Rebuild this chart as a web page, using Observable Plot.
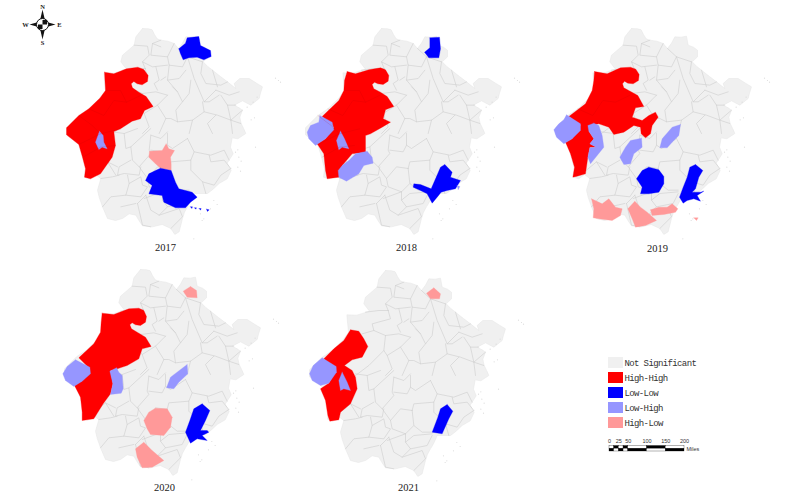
<!DOCTYPE html>
<html><head><meta charset="utf-8">
<style>html,body{margin:0;padding:0;background:#fff}svg{display:block}.tight text{letter-spacing:-.62px}</style>
<script src="https://cdn.jsdelivr.net/npm/d3@7"></script>
<script src="https://cdn.jsdelivr.net/npm/@observablehq/plot@0.6"></script>
</head><body><div id="chart"></div>
<script>
const categories=["Not Significant","High-High","Low-Low","Low-High","High-Low"];
const colours=["#f0f0f0","#ff0000","#0000ff","#9696ff","#ff9999"];
const years=["2017","2018","2019","2020","2021"];
const panelDx=[0,239,489,-2,243];
const panelDy=[0,0,0,241,242];
const yearX=[165,406,657,164,408];
const yearY=[247,247,248,487,487];
const cropX=[0,270,530,30,290];
const cropY=[0,10,10,260,260];

const outline=[[426,84],[445,85],[455,88],[462,102],[470,115],[481,119],[502,122],[521,129],[534,144],[546,128],[556,109],[575,110],[591,107],[596,134],[612,140],[624,149],[624,169],[608,184],[622,198],[636,209],[660,228],[681,244],[706,264],[701,249],[718,234],[746,234],[768,248],[786,259],[780,278],[776,294],[751,314],[726,301],[701,314],[716,322],[726,329],[718,350],[722,369],[730,385],[736,399],[712,415],[695,412],[690,440],[698,460],[680,488],[692,510],[680,535],[656,549],[638,566],[621,579],[581,579],[572,600],[561,619],[552,635],[546,654],[536,694],[523,702],[511,684],[485,672],[456,679],[426,676],[414,658],[406,644],[386,640],[366,654],[345,660],[321,654],[306,619],[296,590],[291,569],[301,534],[285,522],[268,535],[252,530],[255,505],[246,470],[235,432],[198,403],[198,382],[235,345],[265,325],[298,293],[315,270],[310,217],[340,218],[378,206],[361,184],[366,164],[401,134],[406,109]];
const islands=[[762,352],[752,358],[765,440],[705,455],[715,470],[722,482],[712,500],[610,655],[605,660],[834,240],[825,233],[840,245],[580,715],[630,625],[740,320],[758,305],[770,290],[712,448],[720,512],[640,600],[650,612],[600,640]];
const northBorders=[[[95,65],[135,68],[140,95],[120,115],[128,135]],[[175,50],[150,60],[145,95],[195,100],[215,60]],[[228,75],[255,100],[300,115]],[[195,100],[200,125],[240,130],[255,100]],[[120,115],[150,130],[195,125]],[[128,135],[135,160],[80,175],[85,195],[120,210],[160,205],[195,215]],[[60,140],[100,135],[128,135]],[[160,130],[170,170],[155,180],[165,200]],[[200,125],[195,170],[230,165],[250,140]],[[255,100],[275,165],[305,235],[340,200]],[[300,115],[295,150],[310,180],[355,185],[375,175]],[[195,170],[225,205],[240,235],[260,210],[265,170]],[[340,200],[380,215],[410,205]],[[305,235],[320,235],[350,215]],[[355,215],[375,245],[400,245]],[[240,235],[220,260],[225,295],[270,290],[305,265],[300,235]],[[120,210],[115,255],[125,270],[165,245],[195,215]],[[165,245],[190,285],[170,330]],[[115,255],[70,300],[30,330]],[[125,270],[140,310],[120,330]],[[225,295],[205,285],[190,285]],[[305,265],[345,275],[385,290],[390,330]],[[340,275],[315,300],[330,330]],[[270,290],[260,330]],[[375,245],[385,290],[420,260]],[[150,60],[175,70]],[[175,170],[190,160]],[[210,190],[225,205]],[[330,140],[345,190]],[[385,290],[415,300]],[[85,195],[50,205]]];
const southBorders=[[[75,10],[110,15],[150,0]],[[190,0],[130,55],[135,95],[155,115],[190,75],[185,65],[190,20]],[[190,20],[220,30],[240,10]],[[190,65],[230,70],[240,50],[240,15]],[[240,50],[255,60],[300,30]],[[300,30],[320,70],[310,95],[250,100],[245,120]],[[320,70],[370,80],[410,65],[425,95]],[[365,80],[370,100],[410,95],[430,120]],[[130,95],[95,115],[90,140],[110,135],[155,140],[160,115]],[[155,115],[180,150],[210,115],[245,120]],[[40,150],[75,145],[95,140]],[[120,140],[125,165],[115,200],[70,205],[45,235]],[[125,165],[160,145],[165,170],[180,175],[160,205],[115,200]],[[180,150],[185,175],[225,190],[250,165],[245,120]],[[250,165],[275,185],[305,185]],[[225,190],[225,215],[250,195],[305,190]],[[170,210],[225,190]],[[175,200],[190,245],[215,260],[240,235],[225,215]],[[150,225],[175,200]],[[150,225],[165,290],[190,295]],[[215,260],[230,255],[275,240],[285,265],[250,300]],[[240,235],[290,225],[305,195]],[[100,235],[145,225]],[[310,95],[310,125],[345,160],[380,170],[400,140],[430,120]],[[345,160],[355,195]],[[110,15],[115,60],[130,55]],[[60,100],[90,115]],[[85,140],[60,100],[30,125]]];
const redBorders=[[[265,325],[310,345],[340,300],[378,305],[420,285]],[[315,270],[360,270],[378,305]],[[235,345],[275,375],[300,400],[360,385]],[[235,432],[300,400]],[[248,470],[300,440],[345,435]]];

const regions2017=[
 [1,[[312,215],[340,220],[378,205],[412,200],[430,207],[443,225],[441,243],[425,253],[410,250],[400,243],[392,250],[396,262],[415,275],[437,288],[458,318],[432,330],[420,355],[395,362],[360,385],[340,393],[345,435],[335,470],[300,520],[270,535],[252,530],[255,505],[246,470],[235,432],[198,403],[198,382],[235,345],[265,325],[298,293],[315,270]]],
 [3,[[297,392],[308,405],[310,425],[320,445],[305,440],[295,447],[285,425]]],
 [4,[[497,430],[505,445],[522,450],[510,470],[512,490],[512,510],[480,503],[465,490],[445,470],[447,452],[485,450]]],
 [2,[[480,503],[512,510],[525,545],[535,565],[575,575],[590,590],[570,605],[555,622],[525,622],[490,605],[485,585],[445,580],[455,555],[435,540],[445,520],[465,510]]],
 [2,[[535,145],[555,128],[560,112],[595,108],[600,135],[630,150],[632,168],[610,178],[590,170],[565,172],[548,178],[540,160]]],
 [2,[[570,619],[576,619],[574,624]]],[2,[[582,622],[588,622],[586,626]]],[2,[[596,624],[602,624],[600,629]]],[2,[[618,626],[626,628],[621,633]]]
];
const regions2018=[
 [1,[[230,183],[255,190],[295,178],[330,172],[345,178],[355,195],[353,212],[338,222],[322,220],[312,215],[305,222],[310,235],[330,245],[350,258],[370,288],[345,298],[338,325],[360,335],[335,350],[300,370],[285,375],[285,425],[245,430],[215,465],[205,500],[170,505],[165,480],[160,430],[140,400],[165,385],[190,350],[155,318],[205,270],[220,240],[222,210]]],
 [3,[[148,315],[185,335],[190,358],[165,385],[135,405],[115,385],[110,365],[120,345],[145,335]]],
 [3,[[210,362],[222,385],[235,415],[215,410],[205,418],[198,390]]],
 [3,[[255,430],[290,422],[305,440],[308,458],[280,465],[265,490],[240,505],[228,512],[205,500],[203,480],[215,465],[235,450]]],
 [2,[[478,82],[507,80],[510,115],[505,142],[475,142],[462,125],[478,112]]],
 [2,[[523,462],[545,485],[540,500],[570,510],[555,535],[530,540],[512,545],[500,560],[485,578],[470,550],[450,540],[428,530],[430,520],[450,522],[482,535],[495,505],[510,470]]],
 [3,[[560,525],[568,528],[563,538]]]
];
const regions2019=[
 [1,[[192,183],[230,190],[270,172],[300,170],[316,176],[326,192],[324,210],[308,220],[292,218],[282,212],[276,220],[280,232],[295,240],[322,255],[340,288],[315,292],[305,320],[335,330],[355,315],[375,305],[383,320],[365,345],[360,370],[345,382],[332,370],[330,350],[310,345],[280,365],[250,372],[235,350],[205,340],[180,345],[175,362],[190,385],[178,400],[197,410],[178,410],[172,440],[165,490],[140,497],[127,500],[132,470],[120,430],[105,395],[125,385],[150,345],[115,318],[165,280],[185,240],[190,210]]],
 [3,[[108,313],[150,340],[150,360],[125,385],[100,400],[78,380],[70,358],[85,340],[100,328]]],
 [3,[[190,338],[205,345],[215,375],[220,410],[200,435],[180,460],[172,440],[178,412],[197,410],[178,400],[190,385],[175,362],[172,345]]],
 [3,[[333,383],[335,410],[310,430],[300,460],[280,462],[268,440],[285,410],[300,390]]],
 [3,[[450,342],[445,375],[425,395],[410,412],[388,412],[395,385],[425,350]]],
 [2,[[355,470],[385,478],[400,498],[400,520],[385,545],[355,550],[330,550],[335,530],[318,505],[335,480]]],
 [2,[[495,462],[517,480],[505,500],[495,535],[485,545],[510,545],[520,542],[500,555],[510,572],[490,565],[470,570],[458,578],[447,560],[458,530],[470,500],[478,470]]],
 [4,[[183,565],[215,580],[235,565],[255,590],[275,595],[270,615],[245,630],[205,625],[188,622],[190,595]]],
 [4,[[313,572],[330,590],[350,605],[378,630],[345,645],[315,650],[305,625],[292,595]]],
 [4,[[360,598],[385,590],[410,590],[425,580],[442,595],[435,605],[400,612],[365,615]]],
 [4,[[490,622],[503,622],[498,630]]]
];
const regions2020=[
 [1,[[215,158],[250,162],[295,145],[325,143],[340,150],[348,168],[345,185],[330,195],[315,193],[305,187],[298,193],[303,205],[320,215],[345,230],[362,258],[335,265],[325,295],[290,315],[260,325],[240,330],[247,370],[240,400],[218,430],[190,475],[155,480],[155,455],[150,410],[132,375],[155,360],[178,325],[145,292],[190,250],[210,215],[212,185]]],
 [3,[[135,298],[178,320],[180,340],[155,362],[130,378],[105,360],[97,340],[110,318]]],
 [3,[[258,322],[265,335],[275,345],[278,385],[272,398],[240,402],[247,370],[238,332]]],
 [3,[[470,312],[472,340],[445,365],[430,385],[408,382],[420,350]]],
 [4,[[480,78],[498,90],[500,112],[470,110],[458,92]]],
 [4,[[375,443],[410,445],[425,470],[420,500],[400,525],[360,522],[350,505],[340,480],[355,455]]],
 [4,[[340,545],[365,570],[400,600],[365,620],[335,622],[320,590],[315,565]]],
 [2,[[515,430],[538,450],[525,480],[510,510],[530,510],[535,515],[515,525],[530,540],[500,535],[480,548],[465,515],[478,480],[490,445]]]
];
const regions2021=[
 [1,[[180,208],[205,212],[220,235],[232,258],[215,290],[185,298],[162,315],[185,330],[195,350],[200,385],[180,430],[150,455],[145,478],[118,482],[112,465],[105,420],[90,385],[115,368],[137,330],[100,295],[130,265],[160,240]]],
 [3,[[95,292],[137,318],[138,335],[115,368],[90,375],[65,360],[57,340],[68,315]]],
 [3,[[155,335],[170,365],[180,390],[160,385],[150,390],[145,360]]],
 [4,[[430,82],[450,100],[447,115],[420,115],[408,98]]],
 [2,[[470,432],[487,452],[475,475],[455,520],[425,515],[442,470],[450,445]]]
];
const panelRegions=[regions2017,regions2018,regions2019,regions2020,regions2021];
const legendTop=[357,372,387,402,417];
const scaleMiles=[0,25,50,100,150,200];
const scaleCuts=[0,12.5,25,37.5,50,100,150,200];
const compassPolys=[[[42,9],[44.5,20],[39.5,20]],[[42,39],[44.5,28],[39.5,28]],[[29,24],[38,21.5],[38,26.5]],[[55,24],[46,21.5],[46,26.5]]];
const compassQuads=[[[42,24],[42,19.5],[46.5,19.5],[46.5,24]],[[42,24],[42,28.5],[37.5,28.5],[37.5,24]]];
const compassLabels=[["N",42,6],["S",42,42],["W",25,24],["E",59,24]];

let uid=0;
const polyRows=(pts,f,cat)=>{const id=uid++;return [...pts,pts[0]].map(p=>({...f(p),id,cat}));};
const lineRows=(pts,f)=>{const id=uid++;return pts.map(p=>({...f(p),id}));};
const base=i=>p=>({x:p[0]/3+panelDx[i],y:p[1]/3+panelDy[i]});
const shifted=(i,ox,oy)=>p=>({x:p[0]/3+ox+panelDx[i],y:p[1]/3+oy+panelDy[i]});
const own=i=>p=>({x:p[0]/3+cropX[i],y:p[1]/3+cropY[i]});

const fills=[],grey=[],over=[],dots=[];
years.forEach((_,i)=>{
  fills.push(...polyRows(outline,base(i),categories[0]));
  northBorders.forEach(l=>grey.push(...lineRows(l,shifted(i,102,23))));
  southBorders.forEach(l=>grey.push(...lineRows(l,shifted(i,87,128))));
  islands.forEach(p=>dots.push(base(i)(p)));
});
const colored=[];
panelRegions.forEach((rs,i)=>rs.forEach(([c,pts])=>colored.push(...polyRows(pts,own(i),categories[c]))));
[0,1,2,3].forEach(i=>redBorders.forEach(l=>over.push(...lineRows(l,base(i)))));

const mile=m=>609+75*m/200;
const scaleCells=[];
scaleCuts.slice(0,-1).forEach((c,k)=>{
  scaleCells.push({x1:mile(c),x2:mile(scaleCuts[k+1]),y1:445.5,y2:448.3,black:k%2===1});
  scaleCells.push({x1:mile(c),x2:mile(scaleCuts[k+1]),y1:448.3,y2:451,black:k%2===0});
});
const compass=[];compassPolys.forEach(p=>compass.push(...polyRows(p,q=>({x:q[0],y:q[1]}),"k")));
const quads=[];compassQuads.forEach(p=>quads.push(...polyRows(p,q=>({x:q[0],y:q[1]}),"k")));

const plot=Plot.plot({
  width:794,height:494,margin:0,
  x:{domain:[0,794],range:[0,794],axis:null},
  y:{domain:[0,494],range:[0,494],axis:null},
  color:{domain:categories,range:colours},
  style:{background:"#fff"},
  marks:[
    Plot.line(fills,{x:"x",y:"y",z:"id",fill:"cat",stroke:"#e4e4e4",strokeWidth:0.5}),
    Plot.dot(dots,{x:"x",y:"y",r:0.6,fill:"#dcdcdc"}),
    Plot.line(grey,{x:"x",y:"y",z:"id",stroke:"#cccccc",strokeWidth:0.6}),
    Plot.line(colored,{x:"x",y:"y",z:"id",fill:"cat",stroke:"cat",strokeWidth:0.3}),
    Plot.line(over.slice(0,40),{x:"x",y:"y",z:"id",stroke:"#b00000",strokeOpacity:0.35,strokeWidth:0.4}),
    Plot.text(years,{x:(_,i)=>yearX[i],y:(_,i)=>yearY[i],text:d=>d,fontFamily:"Liberation Serif",fontSize:10.5,fill:"#222"}),
    Plot.rect(categories,{x1:()=>608,x2:()=>623,y1:(_,i)=>legendTop[i],y2:(_,i)=>legendTop[i]+11,fill:d=>d}),
    Plot.text(categories,{x:()=>624,y:(_,i)=>legendTop[i]+5.5,text:d=>d,textAnchor:"start",fontFamily:"Liberation Mono",fontSize:9,fill:"#333",className:"tight"}),
    Plot.rect(scaleCells,{x1:"x1",x2:"x2",y1:"y1",y2:"y2",fill:d=>d.black?"#000":"#fff",stroke:"#000",strokeWidth:0.3}),
    Plot.text(scaleMiles,{x:d=>mile(d),y:()=>441,text:d=>String(d),fontFamily:"Liberation Sans",fontSize:5.5,fill:"#333"}),
    Plot.text(["Miles"],{x:()=>686,y:()=>449,text:d=>d,textAnchor:"start",fontFamily:"Liberation Sans",fontSize:5.5,fill:"#333"}),
    Plot.line(compass,{x:"x",y:"y",z:"id",fill:"#111",stroke:"none"}),
    Plot.dot([[42,24]],{x:d=>d[0],y:d=>d[1],r:6,fill:"#fff",stroke:"#111",strokeWidth:1}),
    Plot.line(quads,{x:"x",y:"y",z:"id",fill:"#111",stroke:"none"}),
    Plot.text(compassLabels,{x:d=>d[1],y:d=>d[2],text:d=>d[0],fontFamily:"Liberation Serif",fontWeight:"bold",fontSize:6.5,fill:"#222"})
  ]
});
document.getElementById("chart").append(plot);
</script></body></html>
